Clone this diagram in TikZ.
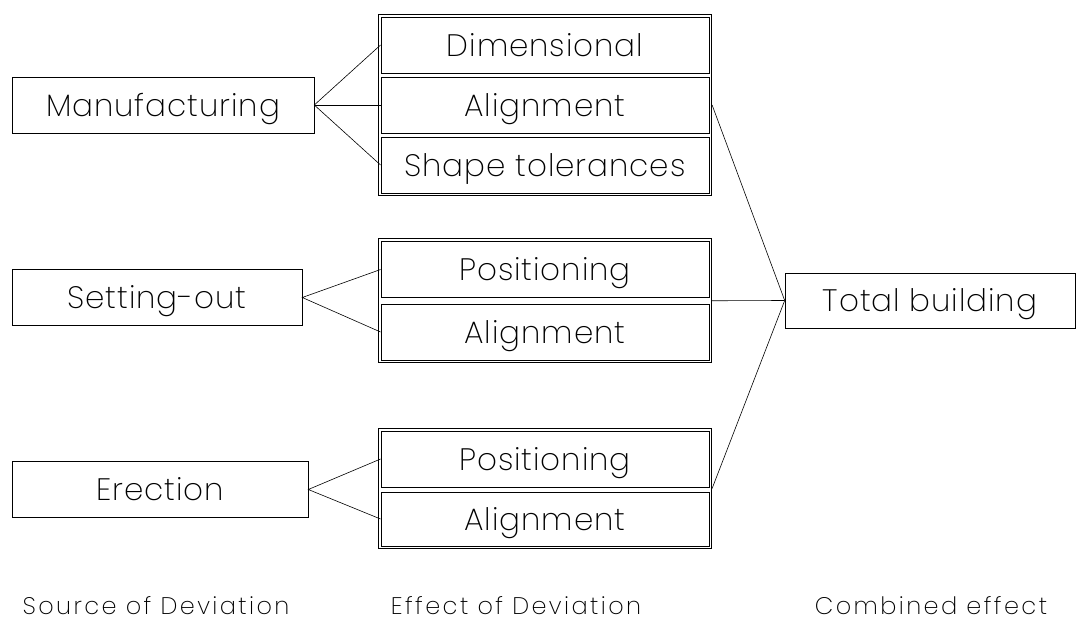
\documentclass[tikz,border=0pt]{standalone}
\usepackage{fontspec}
\setmainfont{Poppins}[UprightFont=* ExtraLight]
\usetikzlibrary{fit}

\tikzset{
  srcbox/.style={draw, line width=0.6pt, inner sep=0pt, minimum height=56pt, text height=22pt, text depth=0pt, font=\fontsize{31}{36}\selectfont\addfontfeature{LetterSpace=3}},
  effbox/.style={draw, line width=0.9pt, inner sep=0pt, minimum width=328pt, minimum height=56pt, text height=22pt, text depth=0pt, font=\fontsize{31}{36}\selectfont\addfontfeature{LetterSpace=3}},
  grpframe/.style={draw, line width=0.9pt, inner sep=2.2pt},
  caption/.style={inner sep=0pt, anchor=base, font=\fontsize{24}{28}\selectfont\addfontfeature{LetterSpace=10}},
  link/.style={line width=0.6pt}
}

\begin{document}
\begin{tikzpicture}[x=1pt, y=-1pt]
    \useasboundingbox (0,0) rectangle (1076,621);

    % Sources
    \node[srcbox, minimum width=302pt] (manu) at (163,105) {Manufacturing};
    \node[srcbox, minimum width=290pt] (sett) at (157,297.5) {Setting-out};
    \node[srcbox, minimum width=296pt] (erec) at (160,489.5) {Erection};

    % Effects
    \node[effbox] (dim) at (545,45) {Dimensional};
    \node[effbox] (aln1) at (545,105) {Alignment};
    \node[effbox] (shp) at (545,165) {Shape tolerances};
    \node[grpframe, fit=(dim)(shp)] (grp1) {};

    \node[effbox] (pos2) at (545,269.5) {Positioning};
    \node[effbox] (aln2) at (545,332) {Alignment};
    \node[grpframe, fit=(pos2)(aln2)] (grp2) {};

    \node[effbox] (pos3) at (545,459) {Positioning};
    \node[effbox, minimum height=54pt] (aln3) at (545,519) {Alignment};
    \node[grpframe, fit=(pos3)(aln3)] (grp3) {};

    % Combined
    \node[srcbox, minimum width=290pt, minimum height=55pt] (total) at (930,300.5) {Total building};

    % Connectors
    \draw[link] (dim.west) -- (manu.east) -- (shp.west);
    \draw[link] (manu.east) -- (aln1.west);
    \draw[link] (pos2.west) -- (sett.east) -- (aln2.west);
    \draw[link] (pos3.west) -- (erec.east) -- (aln3.west);
    \draw[link] (aln1 -| grp1.east) -- (total.west);
    \draw[link] (grp2.east) -- (total.west);
    \draw[link] (grp3.east) -- (total.west);

    % Column captions
    \node[caption] (capsrc) at (156,614) {Source of Deviation};
    \node[caption] (capeff) at (516,614) {Effect of Deviation};
    \node[caption] (capcmb) at (931,614) {Combined effect};

\end{tikzpicture}
\end{document}
